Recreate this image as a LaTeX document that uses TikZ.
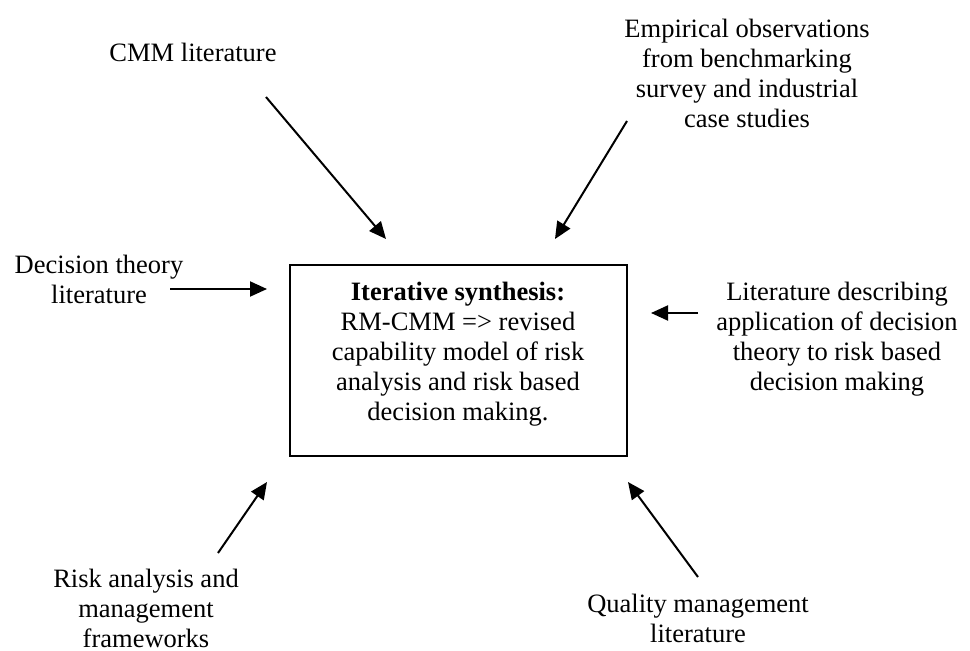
\documentclass[tikz,border=0pt]{standalone}
\usepackage{fontspec}
\setmainfont{Liberation Serif}
\usetikzlibrary{arrows.meta}
\begin{document}
\begin{tikzpicture}[x=1pt,y=-1pt,
  label/.style={align=center,inner sep=0pt,font=\fontsize{26.5}{30}\selectfont},
  feed/.style={line width=2pt,-{Triangle[length=17pt,width=15pt]}},
  synth/.style={draw,line width=2pt,minimum width=337pt,minimum height=191pt,inner sep=0pt}]
\useasboundingbox (0,0) rectangle (970,651);

% central synthesis box
\node[synth] (box) at (458.5,360.5) {};
\node[label] (boxtext) at (458,354) {\textbf{Iterative synthesis:}\\RM-CMM => revised\\capability model of risk\\analysis and risk based\\decision making.};

% source labels
\node[label] (cmm) at (193,52) {CMM literature};
\node[label] (emp) at (747,73) {Empirical observations\\from benchmarking\\survey and industrial\\case studies};
\node[label] (dec) at (99,279) {Decision theory\\literature};
\node[label] (lit) at (837,339) {Literature describing\\application of decision\\theory to risk based\\decision making};
\node[label] (risk) at (146,608) {Risk analysis and\\management\\frameworks};
\node[label] (qual) at (698,618) {Quality management\\literature};

% arrow ends
\coordinate (cmmA) at (266,97);   \coordinate (cmmB) at (386,239);
\coordinate (empA) at (627,121);  \coordinate (empB) at (555,239);
\coordinate (decA) at (170,289);  \coordinate (decB) at (267,289);
\coordinate (litA) at (698,313);  \coordinate (litB) at (651,313);
\coordinate (riskA) at (218,553); \coordinate (riskB) at (267,482);
\coordinate (qualA) at (698,577); \coordinate (qualB) at (628,482);

\draw[feed] (cmmA) -- (cmmB);
\draw[feed] (empA) -- (empB);
\draw[feed] (decA) -- (decB);
\draw[feed] (litA) -- (litB);
\draw[feed] (riskA) -- (riskB);
\draw[feed] (qualA) -- (qualB);
\end{tikzpicture}
\end{document}
